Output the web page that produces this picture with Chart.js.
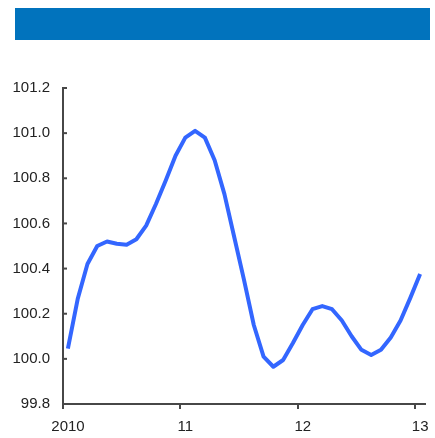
<!DOCTYPE html>
<html>
<head>
<meta charset="utf-8">
<script src="https://cdn.jsdelivr.net/npm/chart.js@4"></script>
<style>
  html, body { margin: 0; padding: 0; background: #fff; }
  #wrap { width: 435px; height: 438px; }
</style>
</head>
<body>
<div id="wrap"><canvas id="lineChart" width="435" height="438"></canvas></div>
<script>
// Monthly index values, Jan 2010 .. Jan 2013
const indexValues = [
    100.045, 100.265, 100.42, 100.50, 100.52, 100.51, 100.506, 100.53, 100.59, 100.686, 100.79, 100.90,
    100.98, 101.01, 100.98, 100.88, 100.73, 100.54, 100.35, 100.15, 100.01, 99.965, 99.995, 100.07,
    100.15, 100.22, 100.234, 100.22, 100.17, 100.10, 100.04, 100.017, 100.04, 100.095, 100.17, 100.27,
    100.376
];
const yearTicks = [0, 12, 24, 36];
const yearLabels = ['2010', '11', '12', '13'];

const axisColor = '#474747';
const lineColor = '#3366ff';
const labelFont = { family: "'Liberation Sans', Arial, sans-serif", size: 15 };

// header bar + inward y ticks
const decorPlugin = {
    id: 'decor',
    beforeDraw(chart) {
        const ctx = chart.ctx;
        ctx.save();
        ctx.fillStyle = '#0173bd';
        ctx.fillRect(15, 8, 415, 32);
        ctx.restore();
    },
    afterDraw(chart) {
        const ctx = chart.ctx;
        const y = chart.scales.y;
        const left = chart.chartArea.left;
        ctx.save();
        ctx.strokeStyle = axisColor;
        ctx.lineWidth = 2;
        y.ticks.forEach(t => {
            const py = y.getPixelForValue(t.value);
            ctx.beginPath();
            ctx.moveTo(left - 1, py);
            ctx.lineTo(left + 4, py);
            ctx.stroke();
        });
        ctx.restore();
    }
};

new Chart(document.getElementById('lineChart').getContext('2d'), {
    type: 'line',
    data: {
        datasets: [{
            data: indexValues.map((v, i) => ({ x: i + 0.5, y: v })),
            borderColor: lineColor,
            borderWidth: 4,
            borderJoinStyle: 'round',
            pointRadius: 0,
            tension: 0,
            fill: false
        }]
    },
    options: {
        responsive: false,
        animation: false,
        layout: { padding: { top: 88, left: 0, right: 10, bottom: 0 } },
        plugins: {
            legend: { display: false },
            tooltip: { enabled: false }
        },
        scales: {
            x: {
                type: 'linear',
                min: 0,
                max: 37,
                afterBuildTicks: s => { s.ticks = yearTicks.map(v => ({ value: v })); },
                afterFit: s => { s.height = 34; },
                grid: { drawOnChartArea: false, tickLength: 5, color: axisColor, lineWidth: 2 },
                border: { color: axisColor, width: 2 },
                ticks: {
                    callback: v => yearLabels[yearTicks.indexOf(v)],
                    labelOffset: 5,
                    padding: 9,
                    maxRotation: 0,
                    autoSkip: false,
                    color: '#222',
                    font: labelFont
                }
            },
            y: {
                min: 99.8,
                max: 101.2,
                afterFit: s => { s.width = 63; },
                grid: { drawOnChartArea: false, drawTicks: false },
                border: { color: axisColor, width: 2 },
                ticks: {
                    stepSize: 0.2,
                    padding: 13,
                    callback: v => v.toFixed(1),
                    color: '#222',
                    font: labelFont
                }
            }
        }
    },
    plugins: [decorPlugin]
});
</script>
</body>
</html>
